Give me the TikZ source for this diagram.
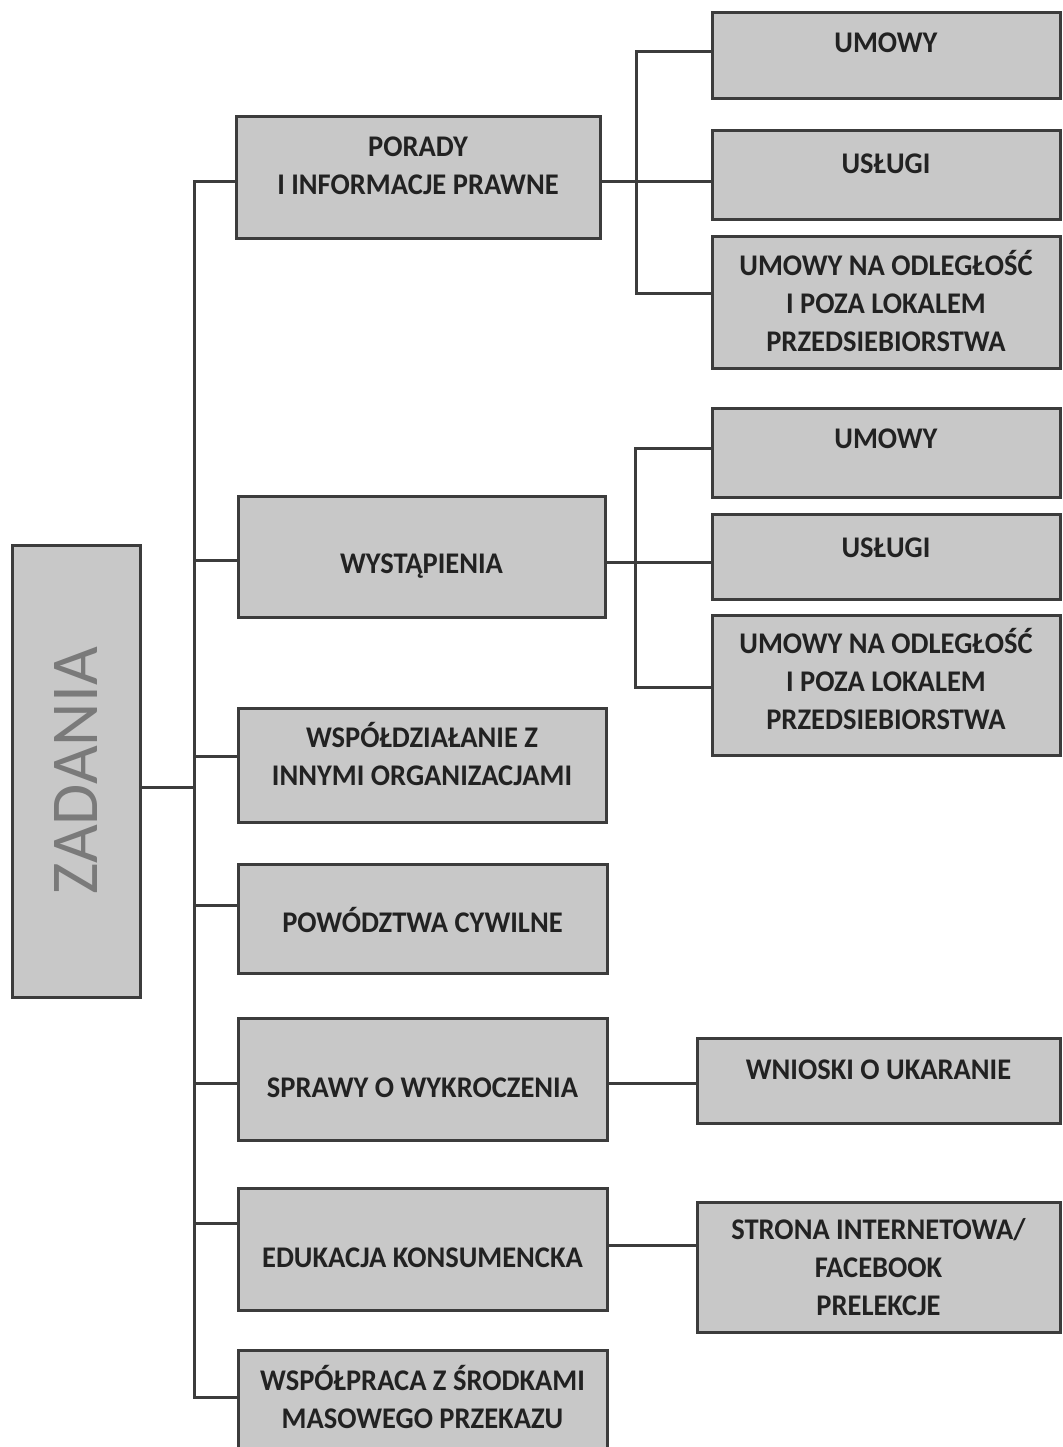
\documentclass[tikz,border=0pt]{standalone}
\usepackage{fontspec}
\setmainfont{Carlito}
\newfontfamily\boxfont{Carlito}[FakeStretch=0.95]
\usepackage{graphicx}
\definecolor{boxfill}{HTML}{C8C8C8}
\definecolor{boxline}{HTML}{3C3C3C}
\definecolor{ink}{HTML}{222222}
\definecolor{zadink}{HTML}{7A7A7A}
% text of a box, moved up (or down) inside it
\newcommand\liftby[2]{\raisebox{#1pt}[\height][\depth]{\begin{tabular}{@{}c@{}}#2\end{tabular}}}
\tikzset{
  box/.style={draw=boxline,fill=boxfill,line width=3pt,inner sep=0pt,text=ink,
    font=\boxfont\bfseries\fontsize{30}{38}\selectfont},
  wh/.style n args={2}{minimum width=#1pt,minimum height=#2pt},
  link/.style={draw=boxline,line width=3pt}
}

\begin{document}
\begin{tikzpicture}[x=1pt,y=-1pt]
\useasboundingbox (0,0) rectangle (1062,1447);
% root
\node[box,wh={128}{452},font=\fontsize{67}{67}\selectfont,text=zadink] (zad) at (76,771)
  {\rotatebox{90}{ZADANIA}};
% middle column
\node[box,wh={364}{122}] (porady) at (418,178) {\liftby{10}{PORADY\\I INFORMACJE PRAWNE}};
\node[box,wh={367}{121}] (wyst) at (421.5,556.5) {\liftby{-9}{WYSTĄPIENIA}};
\node[box,wh={368}{114}] (wspoldz) at (422,765) {\liftby{6}{WSPÓŁDZIAŁANIE Z\\INNYMI ORGANIZACJAMI}};
\node[box,wh={369}{109}] (powodz) at (422.5,918.5) {\liftby{-6}{POWÓDZTWA CYWILNE}};
\node[box,wh={369}{122}] (sprawy) at (422.5,1079) {\liftby{-11}{SPRAWY O WYKROCZENIA}};
\node[box,wh={369}{122}] (edukacja) at (422.5,1249) {\liftby{-11}{EDUKACJA KONSUMENCKA}};
\node[box,wh={369}{120}] (wspolpr) at (422.5,1410) {\liftby{8}{WSPÓŁPRACA Z ŚRODKAMI\\MASOWEGO PRZEKAZU}};
% right column
\node[box,wh={348}{86}] (umowyA) at (886,56) {\liftby{11}{UMOWY}};
\node[box,wh={348}{89}] (uslugiA) at (886,175.5) {\liftby{10}{USŁUGI}};
\node[box,wh={348}{131}] (odlA) at (886,302.5)
  {\liftby{-3}{UMOWY NA ODLEGŁOŚĆ\\I POZA LOKALEM\\PRZEDSIEBIORSTWA}};
\node[box,wh={348}{89}] (umowyB) at (886,452.5) {\liftby{12}{UMOWY}};
\node[box,wh={348}{85}] (uslugiB) at (886,556.5) {\liftby{7}{USŁUGI}};
\node[box,wh={348}{140}] (odlB) at (886,685)
  {\liftby{1}{UMOWY NA ODLEGŁOŚĆ\\I POZA LOKALEM\\PRZEDSIEBIORSTWA}};
\node[box,wh={363}{85}] (wnioski) at (878.5,1080.5) {\liftby{9}{WNIOSKI O UKARANIE}};
\node[box,wh={363}{130}] (strona) at (878.5,1267)
  {\liftby{-3}{STRONA INTERNETOWA/\\FACEBOOK\\PRELEKCJE}};
% junctions
\coordinate (t0) at (194,787);
\coordinate (t1) at (194,182);
\coordinate (t2) at (194,560);
\coordinate (t3) at (194,756);
\coordinate (t4) at (194,905);
\coordinate (t5) at (194,1083);
\coordinate (t6) at (194,1223);
\coordinate (t7) at (194,1397);
\coordinate (fa1) at (636,52);
\coordinate (fa2) at (636,182);
\coordinate (fa3) at (636,293);
\coordinate (fb1) at (635,448);
\coordinate (fb2) at (635,562);
\coordinate (fb3) at (635,687);
\coordinate (m5) at (650,1083);
\coordinate (m6) at (650,1245);
% lines
\draw[link] (zad.east |- t0) -- (t0);
\draw[link] (t1 -| porady.west) -- (t1) -- (t7) -- (t7 -| wspolpr.west);
\foreach \j/\n in {t2/wyst,t3/wspoldz,t4/powodz,t5/sprawy,t6/edukacja}
  \draw[link] (\j) -- (\j -| \n.west);
\draw[link] (fa1 -| umowyA.west) -- (fa1) -- (fa3) -- (fa3 -| odlA.west);
\draw[link] (porady.east |- fa2) -- (fa2 -| uslugiA.west);
\draw[link] (fb1 -| umowyB.west) -- (fb1) -- (fb3) -- (fb3 -| odlB.west);
\draw[link] (wyst.east |- fb2) -- (fb2 -| uslugiB.west);
\draw[link] (m5 -| sprawy.east) -- (m5 -| wnioski.west);
\draw[link] (m6 -| edukacja.east) -- (m6 -| strona.west);
\end{tikzpicture}
\end{document}
